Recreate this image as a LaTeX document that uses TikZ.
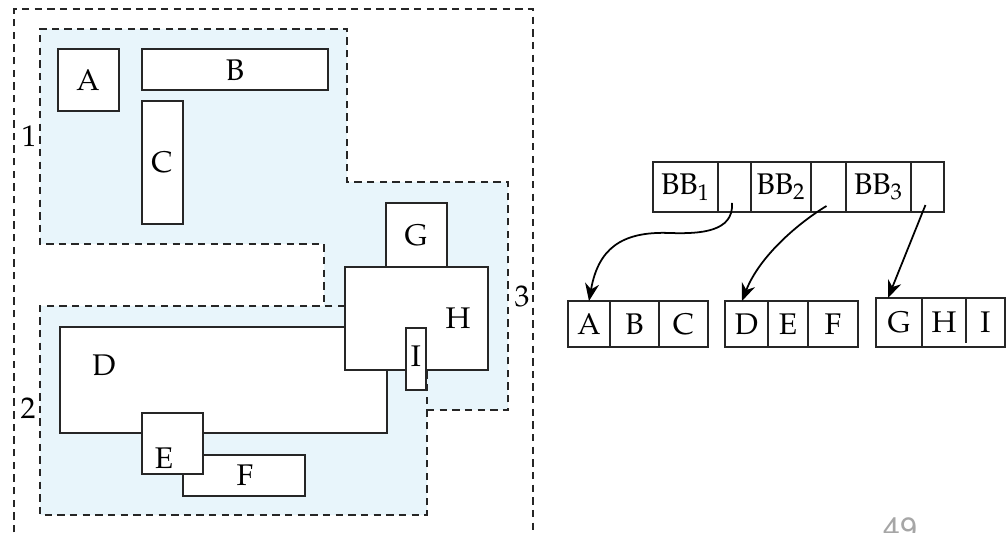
\documentclass[tikz,border=0pt]{standalone}
\usepackage[T1]{fontenc}
\usepackage{mathpazo}
\usepackage[scaled=0.92]{helvet}
\usetikzlibrary{positioning,arrows.meta}
\definecolor{zonefill}{RGB}{232,245,251}
\begin{document}
\begin{tikzpicture}[x=0.02cm,y=-0.02cm,>={Stealth[length=10pt,width=8pt]},
	every node/.style={font=\fontsize{17}{20}\selectfont},
	blk/.style={draw=black!85,fill=white,line width=1pt},
	zone/.style={draw=black!85,dash pattern=on 4.2pt off 3pt,line width=1pt},
	cell/.style={draw=black!85,line width=0.9pt,outer sep=0pt,inner sep=0pt,minimum height=0.92cm}]
	\useasboundingbox (0,0) rectangle (1007,533);
	% zones 1, 2, 3
	\fill[zonefill] (40,29)--(347,29)--(347,182)--(508,182)--(508,410)--(427,410)--(427,515)%
	--(40,515)--(40,306)--(324,306)--(324,244)--(40,244)--cycle;
	\draw[zone] (427,410)--(508,410)--(508,182)--(347,182)--(347,29)--(40,29)--(40,244)%
	--(324,244)--(324,306);
	\draw[zone] (345,306)--(40,306)--(40,515)--(427,515)--(427,370);
	\draw[zone] (14,545)--(14,9)--(533,9)--(533,545);
	\node (n1) at (29,136) {1};
	\node (n2) at (28,408) {2};
	\node (n3) at (522,296) {3};
	% rectangles
	\draw[blk] (58,49) rectangle (119,111);
	\node (lA) at (88,80) {A};
	\draw[blk] (142,49) rectangle (328,90);
	\node (lB) at (235,70) {B};
	\draw[blk] (142,101) rectangle (183,224);
	\node (lC) at (162,162) {C};
	\draw[blk] (386,203) rectangle (447,267);
	\node (lG) at (416,235) {G};
	\draw[blk] (60,327) rectangle (387,433);
	\node (lD) at (104,365) {D};
	\draw[blk] (183,455) rectangle (305,496);
	\node (lF) at (245,475) {F};
	\draw[blk] (142,413) rectangle (203,474);
	\node (lE) at (164,458) {E};
	\draw[blk] (345,267) rectangle (488,370);
	\node (lH) at (458,318) {H};
	\draw[blk] (406,328) rectangle (426,390);
	\node (lI) at (416,356) {I};
	% bucket list
	\node[cell,minimum height=1cm,minimum width=1.3cm] (bb1) at (685.5,187) {BB$_1$};
	\node[cell,minimum height=1cm,minimum width=0.66cm,right=0pt of bb1] (p1) {};
	\node[cell,minimum height=1cm,minimum width=1.2cm,right=0pt of p1] (bb2) {BB$_2$};
	\node[cell,minimum height=1cm,minimum width=0.7cm,right=0pt of bb2] (p2) {};
	\node[cell,minimum height=1cm,minimum width=1.3cm,right=0pt of p2] (bb3) {BB$_3$};
	\node[cell,minimum height=1cm,minimum width=0.66cm,right=0pt of bb3] (p3) {};
	% blocks
	\node[cell,anchor=west,minimum width=0.84cm] (a) at (568,324) {A};
	\node[cell,minimum width=0.98cm,right=0pt of a] (b) {B};
	\node[cell,minimum width=0.98cm,right=0pt of b] (c) {C};
	\node[cell,anchor=west,minimum width=0.86cm] (d) at (725,324) {D};
	\node[cell,minimum width=0.8cm,right=0pt of d] (e) {E};
	\node[cell,minimum width=1cm,right=0pt of e] (f) {F};
	\node[cell,anchor=west,minimum height=0.98cm,minimum width=0.92cm] (g) at (876,322.5) {G};
	\node[cell,draw=none,minimum height=0.98cm,minimum width=0.88cm,right=0pt of g] (h) {H};
	\node[cell,draw=none,minimum height=0.98cm,minimum width=0.78cm,right=0pt of h] (i) {I};
	\draw[black!85,line width=0.9pt] (h.north west) rectangle (i.south east);
	\draw[black!85,line width=0.9pt] (i.north west)--([yshift=0.08cm]i.south west);
	% pointers
	\draw[->,line width=1pt] ([xshift=-0.05cm,yshift=-0.32cm]p1.center) .. controls (734,232) and (700,234) .. (670,233)%
	.. controls (620,231) and (598,250) .. (a.north);
	\draw[->,line width=1pt] ([xshift=-0.04cm,yshift=-0.38cm]p2.center) .. controls (800,222) and (760,255) .. ([xshift=-0.09cm]d.north);
	\draw[->,line width=1pt] ([xshift=-0.04cm,yshift=-0.36cm]p3.center) -- ([xshift=-0.22cm]g.north);
	\node[text=gray!70,font=\sffamily\fontsize{19}{22}\selectfont] (pg) at (900,529) {49};
\end{tikzpicture}
\end{document}
